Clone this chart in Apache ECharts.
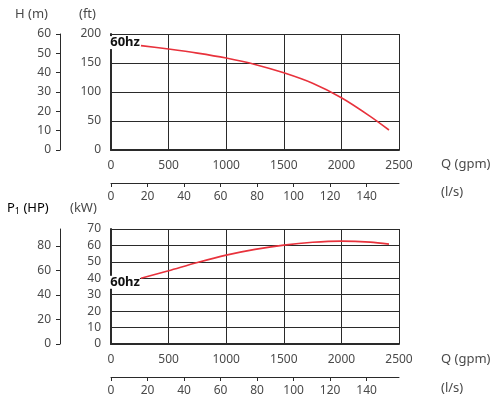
<!DOCTYPE html>
<html>
<head>
<meta charset="utf-8">
<script src="https://cdn.jsdelivr.net/npm/echarts@6/dist/echarts.min.js"></script>
<style>html,body{margin:0;padding:0;background:#fff}#c{width:491px;height:398px}</style>
</head>
<body>
<div id="c"></div>
<script>
// Head curve (gpm, ft)
var headQ = [260, 500, 750, 1000, 1250, 1500, 1750, 2000, 2250, 2413];
var headFt = [180, 174, 167, 158.5, 147.5, 133, 115, 90, 58, 34.5];
// Power curve (gpm, kW)
var powQ = [260, 500, 750, 1000, 1250, 1500, 1750, 2000, 2250, 2413];
var powKW = [40, 44.6, 49.6, 54.1, 57.6, 60.2, 61.9, 62.6, 62, 60.8];
var curveLabel = '60hz';

var font = 'Noto Sans';
var txt = '#4a4a4a';
var gridCol = '#2a2a2a';
var red = '#e8323c';
var lsMax = 2500 * 0.0630902;
var hpMax = 70 * 1.34102;

function pairs(xs, ys) { return xs.map(function (x, i) { return [x, ys[i]]; }); }
function plain(v) { return String(v); }

function gpmAxis(gi) {
  return {
    type: 'value', gridIndex: gi, min: 0, max: 2500, interval: 500, position: 'bottom',
    axisLine: { show: true, onZero: false, lineStyle: { color: gridCol, width: 2 } },
    axisTick: { show: false },
    splitLine: { show: true, lineStyle: { color: gridCol, width: 1 } },
    axisLabel: { color: txt, fontFamily: font, fontSize: 12, margin: 10, formatter: plain }
  };
}
function lsAxis(gi) {
  return {
    type: 'value', gridIndex: gi, min: 0, max: lsMax, interval: 20, position: 'bottom', offset: 33,
    axisLine: { show: true, onZero: false, lineStyle: { color: gridCol, width: 1 } },
    axisTick: { show: true, length: 4, lineStyle: { color: gridCol } },
    splitLine: { show: false },
    axisLabel: { color: txt, fontFamily: font, fontSize: 12, margin: 8, showMaxLabel: false, formatter: plain }
  };
}
function labelStyle(offY) {
  return {
    show: true, position: 'left', distance: 1, offset: [0, offY], formatter: curveLabel,
    fontFamily: font, fontWeight: 'bold', fontSize: 13, color: '#111',
    backgroundColor: '#fff', padding: [0, 0, 0, 1]
  };
}

var headData = pairs(headQ, headFt);
headData[0] = { value: headData[0], label: labelStyle(-3) };
var powData = pairs(powQ, powKW);
powData[0] = { value: powData[0], label: labelStyle(4) };

var option = {
  animation: false,
  grid: [
    { left: 111, top: 34, width: 288, height: 116 },
    { left: 111, top: 229, width: 288, height: 115 }
  ],
  xAxis: [gpmAxis(0), lsAxis(0), gpmAxis(1), lsAxis(1)],
  yAxis: [
    { type: 'value', gridIndex: 0, min: 0, max: 200, interval: 50, position: 'left',
      axisLine: { show: true, onZero: false, lineStyle: { color: gridCol, width: 2 } }, axisTick: { show: false },
      splitLine: { show: true, lineStyle: { color: gridCol } },
      axisLabel: { color: txt, fontFamily: font, fontSize: 12, margin: 10 } },
    { type: 'value', gridIndex: 0, min: 0, max: 60, interval: 10, position: 'left', offset: 51,
      axisLine: { show: true, onZero: false, lineStyle: { color: gridCol, width: 1 } },
      axisTick: { show: true, length: 4, lineStyle: { color: gridCol } }, splitLine: { show: false },
      axisLabel: { color: txt, fontFamily: font, fontSize: 12, margin: 9 } },
    { type: 'value', gridIndex: 1, min: 0, max: 70, interval: 10, position: 'left',
      axisLine: { show: true, onZero: false, lineStyle: { color: gridCol, width: 2 } }, axisTick: { show: false },
      splitLine: { show: true, lineStyle: { color: gridCol } },
      axisLabel: { color: txt, fontFamily: font, fontSize: 12, margin: 10 } },
    { type: 'value', gridIndex: 1, min: 0, max: hpMax, interval: 20, position: 'left', offset: 51,
      axisLine: { show: true, onZero: false, lineStyle: { color: gridCol, width: 1 } },
      axisTick: { show: true, length: 4, lineStyle: { color: gridCol } }, splitLine: { show: false },
      axisLabel: { color: txt, fontFamily: font, fontSize: 12, margin: 9, showMaxLabel: false } }
  ],
  series: [
    { type: 'line', xAxisIndex: 0, yAxisIndex: 0, data: headData, smooth: 0.3,
      showSymbol: true, symbol: 'circle', symbolSize: 0.01,
      lineStyle: { color: red, width: 1.6 }, itemStyle: { color: red }, z: 5 },
    { type: 'line', xAxisIndex: 2, yAxisIndex: 2, data: powData, smooth: 0.3,
      showSymbol: true, symbol: 'circle', symbolSize: 0.01,
      lineStyle: { color: red, width: 1.6 }, itemStyle: { color: red }, z: 5 }
  ],
  graphic: [
    { type: 'text', left: 15, top: 8, style: { text: 'H (m)', font: '13px "Noto Sans"', fill: txt } },
    { type: 'text', left: 79, top: 8, style: { text: '(ft)', font: '13px "Noto Sans"', fill: txt } },
    { type: 'text', left: 441, top: 158, style: { text: 'Q (gpm)', font: '13px "Noto Sans"', fill: txt } },
    { type: 'text', left: 441, top: 186, style: { text: '(l/s)', font: '13px "Noto Sans"', fill: txt } },
    { type: 'text', left: 7, top: 202, style: { text: '{a|P}{s|1}{a| (HP)}', rich: { a: { fontFamily: font, fontSize: 13, color: txt }, s: { fontFamily: font, fontSize: 9, color: txt, padding: [6, 0, 0, 0] } } } },
    { type: 'text', left: 70, top: 202, style: { text: '(kW)', font: '13px "Noto Sans"', fill: txt } },
    { type: 'text', left: 441, top: 353, style: { text: 'Q (gpm)', font: '13px "Noto Sans"', fill: txt } },
    { type: 'text', left: 441, top: 382, style: { text: '(l/s)', font: '13px "Noto Sans"', fill: txt } }
  ]
};
var chart = echarts.init(document.getElementById('c'), null, { renderer: 'canvas' });
chart.setOption(option);
</script>
</body>
</html>
